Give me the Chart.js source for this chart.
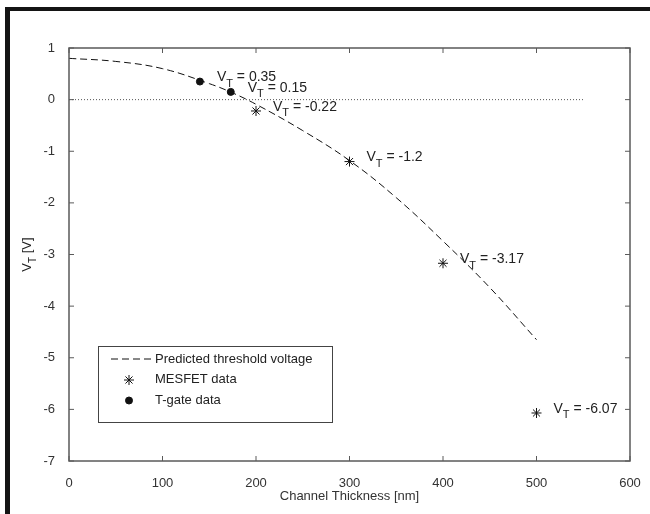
<!DOCTYPE html>
<html>
<head>
<meta charset="utf-8">
<script src="https://cdn.jsdelivr.net/npm/chart.js@4.4.1/dist/chart.umd.min.js"></script>
<style>
  html, body { margin: 0; padding: 0; background: #fff; }
  #wrap { position: relative; width: 650px; height: 514px; background: #fff; }
  #wrap canvas { position: absolute; left: 0; top: 0; }
  #cadre {
    position: absolute; left: 5px; top: 7px; right: 0; bottom: 0;
    border-left: 5px solid #141414; border-top: 4px solid #141414;
    pointer-events: none;
  }
</style>
</head>
<body>
<div id="wrap">
  <canvas id="vtChart" width="650" height="514"></canvas>
  <div id="cadre"></div>
</div>
<script>
// Données
const epaisseurPredite = [0, 50, 100, 150, 175, 200, 250, 300, 350, 400, 450, 500];
const vtPredite = [0.80, 0.74, 0.60, 0.31, 0.13, -0.09, -0.60, -1.18, -1.90, -2.74, -3.64, -4.65];

const epaisseurMesfet = [200, 300, 400, 500];
const vtMesfet = [-0.22, -1.2, -3.17, -6.07];
const etiquettesMesfet = ['-0.22', '-1.2', '-3.17', '-6.07'];

const epaisseurTgate = [140, 173];
const vtTgate = [0.35, 0.15];
const etiquettesTgate = ['0.35', '0.15'];

const ligneZeroX = [0, 550];
const ligneZeroY = [0, 0];

const ticksX = [0, 100, 200, 300, 400, 500, 600];
const ticksY = [1, 0, -1, -2, -3, -4, -5, -6, -7];

const POLICE = "'Liberation Sans', Arial, Helvetica, sans-serif";

function points(xs, ys) {
    return xs.map((x, i) => ({ x: x, y: ys[i] }));
}

/**
 * Texte "V" + indice "T" + suite
 */
function texteVT(ctx, x, y, suite, taille) {
    ctx.font = taille + 'px ' + POLICE;
    ctx.fillText('V', x, y);
    let w = ctx.measureText('V').width;
    ctx.font = Math.round(taille * 0.8) + 'px ' + POLICE;
    ctx.fillText('T', x + w, y + taille * 0.45);
    w += ctx.measureText('T').width;
    ctx.font = taille + 'px ' + POLICE;
    ctx.fillText(suite, x + w, y);
}

function largeurVT(ctx, suite, taille) {
    ctx.font = taille + 'px ' + POLICE;
    let w = ctx.measureText('V').width + ctx.measureText(suite).width;
    ctx.font = Math.round(taille * 0.8) + 'px ' + POLICE;
    return w + ctx.measureText('T').width;
}

// Cadre, graduations intérieures, étiquettes, légende
const decorPlugin = {
    id: 'decor',
    afterDatasetsDraw(chart) {
        const ctx = chart.ctx;
        const ca = chart.chartArea;
        const sx = chart.scales.x;
        const sy = chart.scales.y;

        ctx.save();
        // Cadre des axes
        ctx.strokeStyle = '#5a5a5a';
        ctx.lineWidth = 1.5;
        ctx.strokeRect(ca.left, ca.top, ca.right - ca.left, ca.bottom - ca.top);

        // Graduations vers l'intérieur
        ctx.lineWidth = 1;
        ctx.beginPath();
        ticksX.forEach(v => {
            const px = sx.getPixelForValue(v);
            ctx.moveTo(px, ca.bottom); ctx.lineTo(px, ca.bottom - 5);
            ctx.moveTo(px, ca.top); ctx.lineTo(px, ca.top + 5);
        });
        ticksY.forEach(v => {
            const py = sy.getPixelForValue(v);
            ctx.moveTo(ca.left, py); ctx.lineTo(ca.left + 5, py);
            ctx.moveTo(ca.right, py); ctx.lineTo(ca.right - 5, py);
        });
        ctx.stroke();

        // Étiquettes des points
        ctx.fillStyle = '#222';
        ctx.textBaseline = 'middle';
        ctx.textAlign = 'left';
        const etiquettes = [
            { meta: chart.getDatasetMeta(2), textes: etiquettesMesfet },
            { meta: chart.getDatasetMeta(3), textes: etiquettesTgate }
        ];
        etiquettes.forEach(e => {
            e.meta.data.forEach((pt, i) => {
                texteVT(ctx, pt.x + 17, pt.y - 4, ' = ' + e.textes[i], 14);
            });
        });

        // Titre de l'axe Y avec indice
        ctx.save();
        ctx.translate(27, (ca.top + ca.bottom) / 2);
        ctx.rotate(-Math.PI / 2);
        const wy = largeurVT(ctx, ' [V]', 13);
        texteVT(ctx, -wy / 2, 0, ' [V]', 13);
        ctx.restore();

        // Légende
        const lx = ca.left + 29;
        const ly = ca.bottom - 115;
        ctx.fillStyle = '#fff';
        ctx.fillRect(lx, ly, 234, 76);
        ctx.strokeStyle = '#444';
        ctx.lineWidth = 1;
        ctx.strokeRect(lx + 0.5, ly + 0.5, 234, 76);

        const dsLigne = chart.data.datasets[1];
        ctx.strokeStyle = dsLigne.borderColor;
        ctx.setLineDash(dsLigne.borderDash);
        ctx.beginPath();
        ctx.moveTo(lx + 13, ly + 13);
        ctx.lineTo(lx + 55, ly + 13);
        ctx.stroke();
        ctx.setLineDash([]);

        [2, 3].forEach((idx, k) => {
            const ds = chart.data.datasets[idx];
            ctx.fillStyle = ds.backgroundColor;
            ctx.strokeStyle = ds.borderColor;
            ctx.lineWidth = ds.borderWidth;
            Chart.helpers.drawPoint(ctx, {
                pointStyle: ds.pointStyle,
                radius: ds.pointRadius,
                borderWidth: ds.borderWidth
            }, lx + 31, ly + 34 + k * 20.5);
        });

        ctx.fillStyle = '#222';
        ctx.font = '13px ' + POLICE;
        chart.data.datasets.slice(1).forEach((ds, k) => {
            ctx.fillText(ds.label, lx + 57, ly + 13 + k * 20.5);
        });
        ctx.restore();
    }
};

const ctx = document.getElementById('vtChart');

new Chart(ctx, {
    type: 'scatter',
    data: {
        datasets: [
            {
                label: 'zero',
                data: points(ligneZeroX, ligneZeroY),
                showLine: true,
                borderColor: '#555',
                borderWidth: 1,
                borderDash: [1, 2],
                pointRadius: 0
            },
            {
                label: 'Predicted threshold voltage',
                data: points(epaisseurPredite, vtPredite),
                showLine: true,
                borderColor: '#111',
                borderWidth: 1,
                borderDash: [7, 4],
                tension: 0.4,
                pointRadius: 0
            },
            {
                label: 'MESFET data',
                data: points(epaisseurMesfet, vtMesfet),
                pointStyle: 'star',
                pointRadius: 5,
                borderWidth: 1,
                borderColor: '#111',
                backgroundColor: '#111'
            },
            {
                label: 'T-gate data',
                data: points(epaisseurTgate, vtTgate),
                pointStyle: 'circle',
                pointRadius: 3.5,
                borderWidth: 1,
                borderColor: '#111',
                backgroundColor: '#111'
            }
        ]
    },
    options: {
        responsive: false,
        animation: false,
        layout: { padding: { top: 48, right: 20, left: 0, bottom: 0 } },
        plugins: {
            legend: { display: false },
            tooltip: { enabled: false }
        },
        scales: {
            x: {
                type: 'linear',
                min: 0,
                max: 600,
                grid: { display: false },
                border: { display: false },
                afterBuildTicks: scale => { scale.ticks = ticksX.map(v => ({ value: v })); },
                afterFit: scale => { scale.height = 53; },
                ticks: {
                    padding: 7,
                    color: '#333',
                    font: { family: POLICE, size: 13 }
                },
                title: {
                    display: true,
                    text: 'Channel Thickness [nm]',
                    color: '#333',
                    font: { family: POLICE, size: 13 },
                    padding: { top: 4, bottom: 10 }
                }
            },
            y: {
                type: 'linear',
                min: -7,
                max: 1,
                grid: { display: false },
                border: { display: false },
                afterBuildTicks: scale => { scale.ticks = ticksY.map(v => ({ value: v })); },
                afterFit: scale => { scale.width = 69; },
                ticks: {
                    padding: 6,
                    color: '#333',
                    font: { family: POLICE, size: 13 }
                }
            }
        }
    },
    plugins: [decorPlugin]
});
</script>
</body>
</html>
